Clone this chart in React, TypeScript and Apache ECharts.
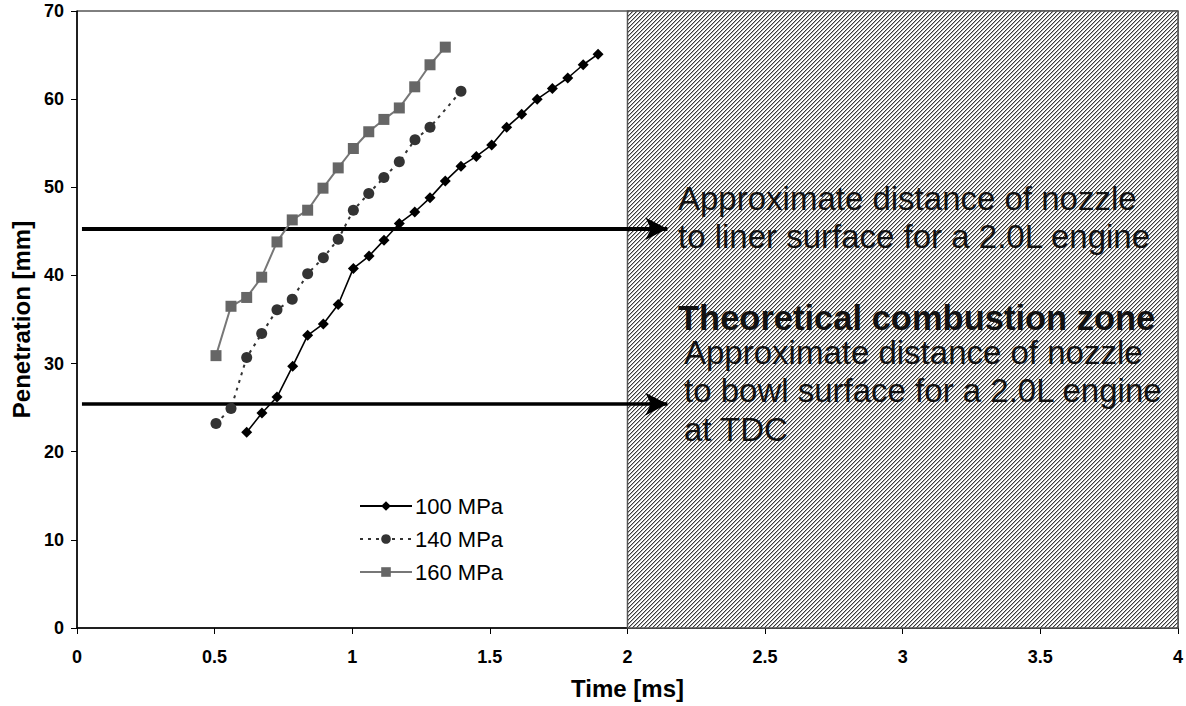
import React, { useEffect, useRef } from "react";
import * as echarts from "echarts";

const time100 = [0.6165, 0.672, 0.7266, 0.7836, 0.838, 0.8948, 0.949, 1.004, 1.061, 1.1153, 1.171, 1.227, 1.2825, 1.338, 1.395, 1.4507, 1.5066, 1.561, 1.6156, 1.672, 1.727, 1.783, 1.839, 1.893];
const pen100 = [22.2, 24.4, 26.2, 29.7, 33.2, 34.5, 36.7, 40.8, 42.2, 44.0, 45.9, 47.2, 48.8, 50.7, 52.4, 53.5, 54.8, 56.8, 58.3, 60.0, 61.2, 62.4, 63.9, 65.1];

const time140 = [0.505, 0.5595, 0.6165, 0.671, 0.7266, 0.782, 0.838, 0.895, 0.949, 1.004, 1.06, 1.115, 1.171, 1.228, 1.2825, 1.395];
const pen140 = [23.2, 24.9, 30.7, 33.4, 36.1, 37.3, 40.2, 42.0, 44.1, 47.4, 49.3, 51.1, 52.9, 55.4, 56.8, 60.9];

const time160 = [0.505, 0.5595, 0.6165, 0.671, 0.7266, 0.782, 0.838, 0.8937, 0.949, 1.004, 1.06, 1.115, 1.171, 1.227, 1.2825, 1.338];
const pen160 = [30.9, 36.5, 37.5, 39.8, 43.8, 46.3, 47.4, 49.9, 52.2, 54.4, 56.3, 57.7, 59.0, 61.4, 63.9, 65.9];

const xTicks = [0, 0.5, 1, 1.5, 2, 2.5, 3, 3.5, 4];
const yTicks = [0, 10, 20, 30, 40, 50, 60, 70];

const zoneStart = 2;
const zoneEnd = 4;
const linerDistance = 45.3;
const bowlDistance = 25.4;
const arrowStart = 0.018;
const arrowEnd = 2.145;

const seriesNames = ["100 MPa", "140 MPa", "160 MPa"];

const FONT = 'Arial, "Liberation Sans", sans-serif';

function makePattern(): HTMLCanvasElement {
  const c = document.createElement("canvas");
  c.width = 4;
  c.height = 4;
  const ctx = c.getContext("2d")!;
  ctx.fillStyle = "#ffffff";
  ctx.fillRect(0, 0, 4, 4);
  for (let i = 0; i < 4; i++) {
    ctx.fillStyle = "#3a3a3a";
    ctx.fillRect(3 - i, i, 1, 1);
    ctx.fillStyle = "#b0b0b0";
    ctx.fillRect((4 - i) % 4, i, 1, 1);
  }
  return c;
}

export default function App() {
  const ref = useRef<HTMLDivElement>(null);

  useEffect(() => {
    if (!ref.current) return;
    const chart = echarts.init(ref.current, null, { renderer: "svg" });
    const pattern = makePattern();

    const zip = (xs: number[], ys: number[]) => xs.map((x, i) => [x, ys[i]]);

    const option: any = {
      animation: false,
      backgroundColor: "#ffffff",
      grid: {
        left: 77,
        right: 8,
        top: 11,
        bottom: 78,
        show: true,
        borderColor: "#000",
        borderWidth: 1,
        backgroundColor: "transparent",
      },
      xAxis: {
        type: "value",
        min: xTicks[0],
        max: xTicks[xTicks.length - 1],
        interval: 0.5,
        name: "Time [ms]",
        nameLocation: "middle",
        nameGap: 48,
        nameTextStyle: { fontFamily: FONT, fontWeight: "bold", fontSize: 24, color: "#000" },
        axisLine: { show: true, lineStyle: { color: "#000", width: 1.5 } },
        axisTick: { show: true, length: 6, lineStyle: { color: "#000" } },
        axisLabel: { fontFamily: FONT, fontWeight: "bold", fontSize: 18, color: "#000", margin: 20 },
        splitLine: { show: false },
      },
      yAxis: {
        type: "value",
        min: yTicks[0],
        max: yTicks[yTicks.length - 1],
        interval: 10,
        name: "Penetration [mm]",
        nameLocation: "middle",
        nameGap: 44,
        nameTextStyle: { fontFamily: FONT, fontWeight: "bold", fontSize: 24, color: "#000" },
        axisLine: { show: true, lineStyle: { color: "#000", width: 1.5 } },
        axisTick: { show: true, length: 6, lineStyle: { color: "#000" } },
        axisLabel: { fontFamily: FONT, fontWeight: "bold", fontSize: 18, color: "#000", margin: 13 },
        splitLine: { show: false },
      },
      legend: {
        orient: "vertical",
        left: 354,
        top: 490,
        itemWidth: 52,
        itemHeight: 12,
        itemGap: 11,
        data: seriesNames,
        textStyle: { fontFamily: FONT, fontSize: 22, color: "#000", padding: [0, 0, 0, -2] },
      },
      series: [
        {
          name: seriesNames[0],
          type: "line",
          data: zip(time100, pen100),
          symbol: "diamond",
          symbolSize: 11,
          itemStyle: { color: "#000" },
          lineStyle: { color: "#000", width: 1.6 },
          z: 5,
          markArea: {
            silent: true,
            z: 1,
            itemStyle: {
              color: { image: pattern, repeat: "repeat" },
              borderColor: "#555",
              borderWidth: 1.5,
            },
            label: { show: false },
            data: [[{ xAxis: zoneStart, yAxis: 0 }, { xAxis: zoneEnd, yAxis: 70 }]],
          },
        },
        {
          name: seriesNames[1],
          type: "line",
          data: zip(time140, pen140),
          symbol: "circle",
          symbolSize: 11,
          itemStyle: { color: "#333" },
          lineStyle: { color: "#333", width: 2, type: [3, 5] },
          z: 5,
        },
        {
          name: seriesNames[2],
          type: "line",
          data: zip(time160, pen160),
          symbol: "rect",
          symbolSize: 11,
          itemStyle: { color: "#666" },
          lineStyle: { color: "#777", width: 2 },
          z: 5,
          markLine: {
            silent: true,
            symbol: ["none", "arrow"],
            symbolSize: [17, 22],
            label: { show: false },
            lineStyle: { color: "#000", width: 4, type: "solid" },
            data: [
              [{ coord: [arrowStart, linerDistance] }, { coord: [arrowEnd, linerDistance] }],
              [
                { coord: [arrowStart, bowlDistance], lineStyle: { width: 3.5 } },
                { coord: [arrowEnd, bowlDistance] },
              ],
            ],
          },
        },
      ],
      graphic: [
        {
          type: "text",
          left: 678,
          top: 179,
          z: 100,
          style: {
            text: "Approximate distance of nozzle\nto liner surface for a 2.0L engine",
            fontFamily: FONT,
            fontSize: 33,
            lineHeight: 38,
            fill: "#111",
          },
        },
        {
          type: "text",
          left: 678,
          top: 300,
          z: 100,
          style: {
            text: "Theoretical combustion zone",
            fontFamily: FONT,
            fontSize: 34.5,
            fontWeight: "bold",
            fill: "#111",
          },
        },
        {
          type: "text",
          left: 684,
          top: 333,
          z: 100,
          style: {
            text: "Approximate distance of nozzle\nto bowl surface for a 2.0L engine\nat TDC",
            fontFamily: FONT,
            fontSize: 33,
            lineHeight: 38.5,
            fill: "#111",
          },
        },
      ],
    };

    chart.setOption(option);
    return () => chart.dispose();
  }, []);

  return (
    <div
      ref={ref}
      style={{ position: "fixed", left: 0, top: 0, width: 1186, height: 706, background: "#fff" }}
    />
  );
}
